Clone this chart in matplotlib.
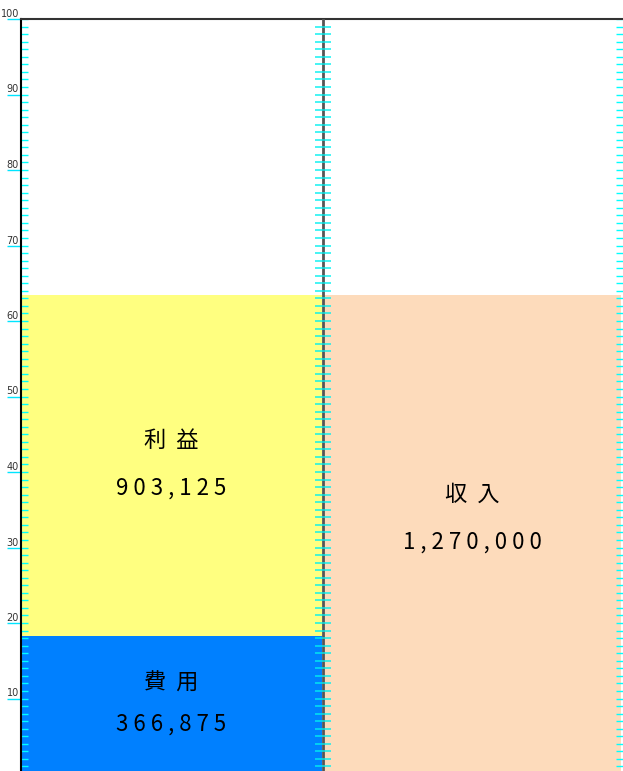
import numpy as np
import matplotlib
matplotlib.use('Agg')
import matplotlib.pyplot as plt
from matplotlib.ticker import MultipleLocator

plt.rcParams['font.family'] = ['Noto Sans CJK JP', 'DejaVu Sans']

# data
names = ['費用', '利益', '収入']
values = [366875, 903125, 1270000]
colors_ = ['#0080ff', '#ffff80', '#fddbbb']
full_scale = 2000000  # value shown as 100 on the axis

pct = [v / full_scale * 100 for v in values]

fig = plt.figure(figsize=(6.23, 7.71), dpi=100)
ax = fig.add_axes([21 / 623, -3 / 771, 602 / 623, 755 / 771])

# left column: stacked cost + profit, right column: revenue
ax.bar(0.5, pct[0], width=1, color=colors_[0], zorder=1)
ax.bar(0.5, pct[1], width=1, bottom=pct[0], color=colors_[1], zorder=1)
ax.bar(1.5, pct[2], width=0.99, color=colors_[2], zorder=1)

ax.set_xlim(0, 2)
ax.set_ylim(0, 100)
ax.set_xticks([])

ax.yaxis.set_minor_locator(MultipleLocator(1))
ax.yaxis.remove_overlapping_locs = False
ax.set_yticks(np.arange(10, 101, 10))
ax.set_yticklabels([str(t) for t in range(10, 101, 10)],
                   fontsize=7, color='#333333', va='bottom',
                   family='DejaVu Sans')
ax.tick_params(axis='y', which='major', direction='out', length=10, width=1,
               color='#00e5ff', pad=-8.5, right=False)
ax.tick_params(axis='y', which='minor', direction='in', length=5, width=1,
               color='#00ffff', right=True)

for s in ['bottom', 'right']:
    ax.spines[s].set_visible(False)
ax.spines['left'].set_color('black')
ax.spines['left'].set_linewidth(1.5)
ax.spines['top'].set_color('#333333')
ax.spines['top'].set_linewidth(1.5)

# middle divider with ticks on both sides
ax.axvline(1.003, color='#555555', lw=2, zorder=3)
tick_y = np.arange(1, 100)
ax.plot(np.full(len(tick_y), 1.003), tick_y, ls='none', marker='_',
        markersize=11, markeredgewidth=1.2, color='#00f0f0', alpha=0.85,
        zorder=4)

# labels
txt = dict(ha='center', va='center', fontsize=16, color='black', zorder=5)
blue_mid = pct[0] / 2
yel_mid = pct[0] + pct[1] / 2
peach_mid = pct[2] / 2
ax.text(0.5, blue_mid + 2.9, '  '.join(names[0]), **txt)
ax.text(0.5, blue_mid - 2.6, ' '.join(f'{values[0]:,}'), **txt)
ax.text(0.5, yel_mid + 3.3, '  '.join(names[1]), **txt)
ax.text(0.5, yel_mid - 3.0, ' '.join(f'{values[1]:,}'), **txt)
ax.text(1.5, peach_mid + 5.3, '  '.join(names[2]), **txt)
ax.text(1.5, peach_mid - 1.0, ' '.join(f'{values[2]:,}'), **txt)

fig.savefig('out.png', dpi=100)
